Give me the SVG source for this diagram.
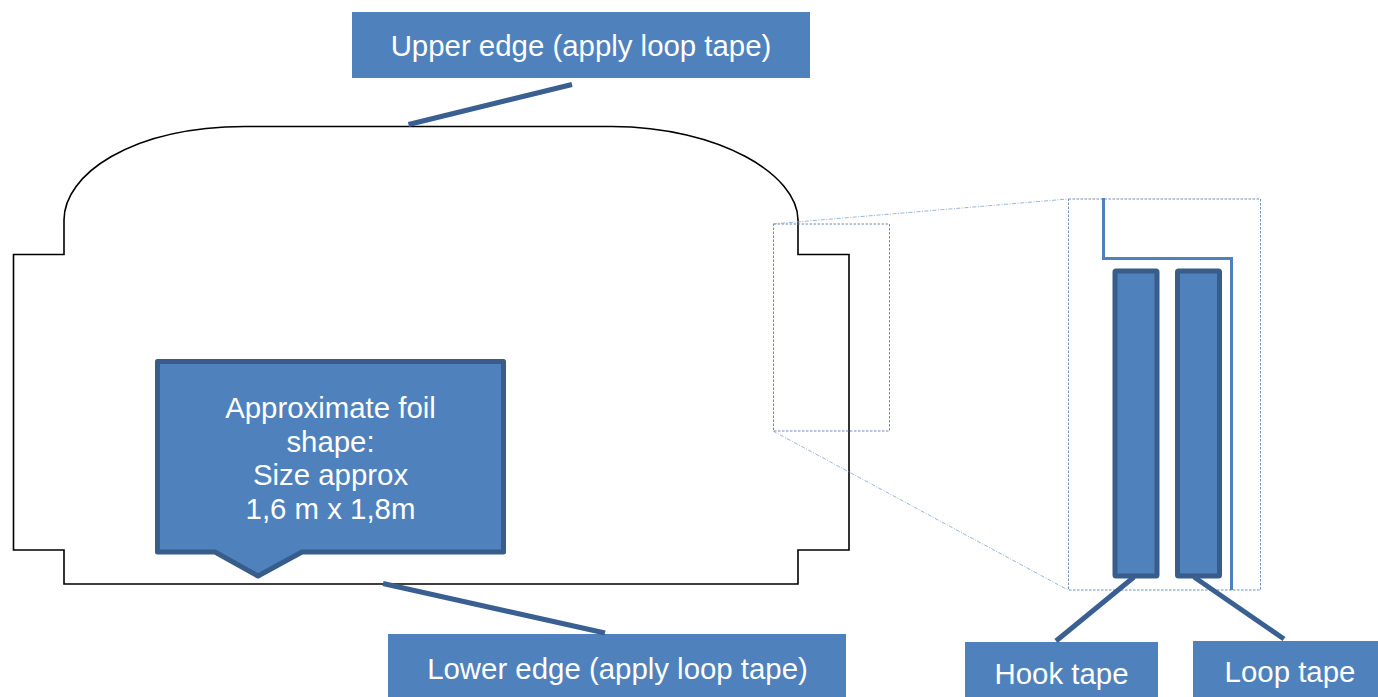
<svg xmlns="http://www.w3.org/2000/svg" width="1378" height="697" viewBox="0 0 1378 697">
<style>
.box{fill:#4f81bd}
.lbl{fill:#fff;font-family:"Liberation Sans",Arial,sans-serif;font-size:29.4px;text-anchor:middle}
.lead{stroke:#3a6092;stroke-width:5;fill:none}
.tape{fill:#4f81bd;stroke:#385d8a;stroke-width:5;stroke-linejoin:round}
.dash{fill:none;stroke:#6f8fb8;stroke-width:1;stroke-dasharray:2.500 1.500}
.dd{fill:none;stroke:#7ea3d0;stroke-width:.8;stroke-dasharray:4 1.500 1 1.500}
</style>
<rect width="1378" height="697" fill="#fff"/>
<g id="foil-outline"><path d="M13.5 254.5H64V220C64 175 130 127 245 126.500H612C720 127 798 175 798 220V254.5H849V550H798V584H64V550H13.5Z" fill="none" stroke="#000" stroke-width="1.6"/></g>
<g id="foil-callout">
<path d="M157.5 361.5H503.5V552H302L258 576L215 552H157.5Z" class="tape"/>
<text class="lbl" x="330.500" y="417.500">Approximate foil</text>
<text class="lbl" x="330.500" y="451.500">shape:</text>
<text class="lbl" x="330.500" y="484.500">Size approx</text>
<text class="lbl" x="330.500" y="518.500">1,6 m x 1,8m</text>
</g>
<g id="detail-source"><rect x="773.500" y="224" width="116" height="207" class="dash"/></g>
<g id="detail-view">
<rect x="1068.500" y="199" width="192" height="391" class="dash"/>
<path d="M1103.500 198V258.500H1231.500V590" fill="none" stroke="#4f81bd" stroke-width="3"/>
</g>
<g id="hook-strip"><rect x="1115" y="271" width="42" height="305" rx="1" class="tape"/></g>
<g id="loop-strip"><rect x="1177.500" y="271" width="42" height="305" rx="1" class="tape"/></g>
<g id="upper-label"><rect x="352" y="12" width="458" height="66" class="box"/><text class="lbl" x="581" y="55.500">Upper edge (apply loop tape)</text></g>
<g id="lower-label"><rect x="388" y="634" width="458" height="63" class="box"/><text class="lbl" x="617.500" y="678.500">Lower edge (apply loop tape)</text></g>
<g id="hook-label"><rect x="965" y="642" width="193" height="55" class="box"/><text class="lbl" x="1061.500" y="683.500">Hook tape</text></g>
<g id="loop-label"><rect x="1193" y="641" width="185" height="56" class="box"/><text class="lbl" x="1290" y="681.500">Loop tape</text></g>
<g id="connectors">
<path d="M773 224L1068 199" class="dd"/>
<path d="M773 431L1068 590" class="dd"/>
<path d="M408.500 124.500L572 84.500" class="lead"/>
<path d="M383 583.500L605 633" class="lead"/>
<path d="M1134 577L1056 641" class="lead"/>
<path d="M1194 577L1284 639" class="lead"/>
</g>
</svg>
